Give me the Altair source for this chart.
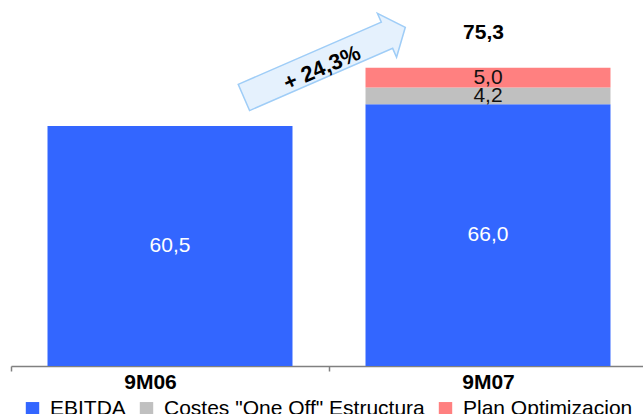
import altair as alt
import pandas as pd

# ---- data ----
periods = ["9M06", "9M07"]
series = ["EBITDA", 'Costes "One Off" Estructura', "Plan Optimizacion"]
ebitda = [60.5, 66.0]
costes_one_off = [0.0, 4.2]
plan_optim = [0.0, 5.0]
total_labels = ["", "75,3"]
growth_label = "+ 24,3%"
colors = ["#3366FF", "#C0C0C0", "#FF8080"]
label_colors = ["white", "#111111", "#111111"]

# ---- build tables ----
rows = []
tot_rows = []
for i, p in enumerate(periods):
    base = 0.0
    for s, vals, lc in zip(series, [ebitda, costes_one_off, plan_optim], label_colors):
        v = vals[i]
        if v > 0:
            rows.append({
                "period": p, "series": s, "start": base, "end": base + v,
                "mid": base + v / 2, "label": f"{v:.1f}".replace(".", ","),
                "lblcolor": lc,
            })
        base += v
    if total_labels[i]:
        tot_rows.append({"period": p, "top": base, "label": total_labels[i]})

df = pd.DataFrame(rows)
tot = pd.DataFrame(tot_rows)
one = pd.DataFrame({"k": [0]})

FONT = "Liberation Sans"

xscale = alt.Scale(domain=periods, range=[0, 636], paddingInner=0.2296, paddingOuter=0.1148)
yscale = alt.Scale(domain=[0, 92.26], nice=False, zero=True)

xaxis = alt.Axis(
    title=None, labelAngle=0, domainColor="#808080", domainWidth=1.5,
    tickColor="#808080", tickWidth=1.5, tickSize=5, tickOffset=-159,
    labelFont=FONT, labelFontWeight="bold", labelFontSize=21, labelColor="black",
    labelPadding=0,
    labelOffset={"condition": {"test": "datum.value === '9M06'", "value": 139}, "value": 159},
)

bars = alt.Chart(df).mark_bar().encode(
    x=alt.X("period:N", scale=xscale, axis=xaxis),
    y=alt.Y("start:Q", scale=yscale, axis=None),
    y2="end:Q",
    color=alt.Color(
        "series:N",
        scale=alt.Scale(domain=series, range=colors),
        legend=alt.Legend(
            orient="none", legendX=11, legendY=398, direction="horizontal",
            title=None, symbolType="square", symbolSize=180, symbolStrokeWidth=0,
            labelFont=FONT, labelFontSize=21, labelColor="black", labelOffset=7,
            columnPadding=10, labelLimit=500, padding=0,
        ),
    ),
)

seg_text = alt.Chart(df).mark_text(font=FONT, fontSize=21, baseline="middle").encode(
    x=alt.X("period:N", scale=xscale),
    y=alt.Y("mid:Q", scale=yscale),
    text="label:N",
    color=alt.Color("lblcolor:N", scale=None),
)

tot_text = alt.Chart(tot).mark_text(
    font=FONT, fontSize=21, fontWeight="bold", baseline="middle", dy=-35, dx=-4.5, color="black"
).encode(
    x=alt.X("period:N", scale=xscale),
    y=alt.Y("top:Q", scale=yscale),
    text="label:N",
)

arrow_path = "M -1 -0.162 L 0.773 -0.162 L 0.773 -0.273 L 1 0 L 0.773 0.273 L 0.773 0.162 L -1 0.162 Z"
arrow = alt.Chart(one).mark_point(
    shape=arrow_path, size=30976, angle=336.5, filled=True,
    fill="#E5F1FD", stroke="#9FCDF7", strokeWidth=1.5, opacity=1,
).encode(x=alt.value(313.6), y=alt.value(62.4))

arrow_text = alt.Chart(one).mark_text(
    text=growth_label, font=FONT, fontSize=22, fontWeight="bold", angle=336.5,
    align="center", baseline="middle", color="black",
).encode(x=alt.value(311), y=alt.value(68))

chart = alt.layer(bars, seg_text, tot_text, arrow, arrow_text).resolve_scale(
    color="independent"
).properties(
    width=632, height=366,
    padding={"left": 11, "top": 0, "right": 0, "bottom": 48},
    autosize=alt.AutoSizeParams(type="none"),
    background="white",
).configure_view(stroke=None)

chart.save("out.html", embed_options={"renderer": "svg", "actions": False})
